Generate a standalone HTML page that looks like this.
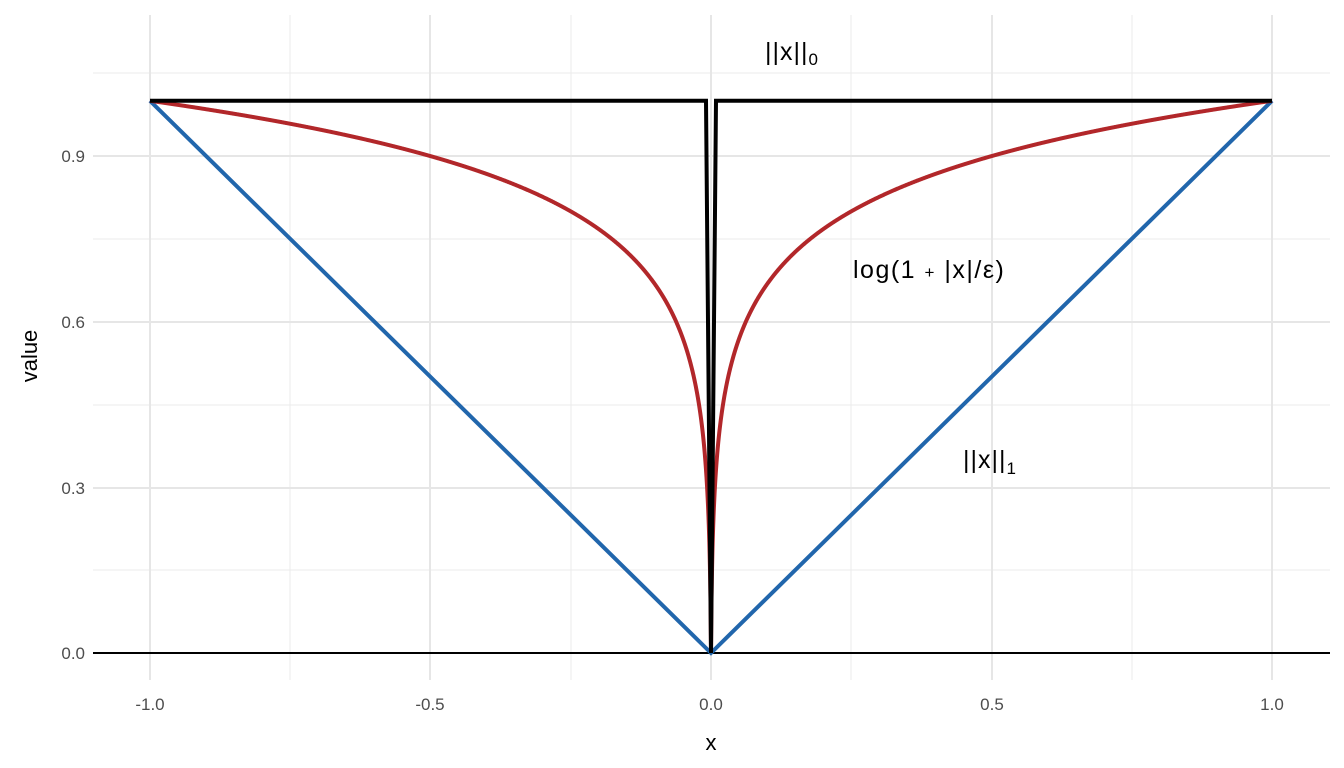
<!DOCTYPE html>
<html><head><meta charset="utf-8"><style>
html,body{margin:0;padding:0;background:#fff;}
svg{display:block;font-family:"Liberation Sans",sans-serif;}
</style></head><body>
<svg id="s" width="1344" height="768" viewBox="0 0 1344 768">
<g stroke="#ebebeb" stroke-width="1">
<line x1="290" y1="15" x2="290" y2="680"/><line x1="571" y1="15" x2="571" y2="680"/>
<line x1="851" y1="15" x2="851" y2="680"/><line x1="1132" y1="15" x2="1132" y2="680"/>
<line x1="93" y1="73" x2="1330" y2="73"/><line x1="93" y1="239" x2="1330" y2="239"/>
<line x1="93" y1="405" x2="1330" y2="405"/><line x1="93" y1="570" x2="1330" y2="570"/>
</g>
<g stroke="#e6e6e6" stroke-width="2">
<line x1="150" y1="15" x2="150" y2="680"/><line x1="430" y1="15" x2="430" y2="680"/>
<line x1="711" y1="15" x2="711" y2="680"/><line x1="992" y1="15" x2="992" y2="680"/>
<line x1="1272" y1="15" x2="1272" y2="680"/>
<line x1="93" y1="156" x2="1330" y2="156"/><line x1="93" y1="322" x2="1330" y2="322"/>
<line x1="93" y1="488" x2="1330" y2="488"/>
</g>
<line x1="93" y1="653" x2="1330" y2="653" stroke="#000" stroke-width="2"/>
<polyline points="150,100.8 711,653 1272,100.8" fill="none" stroke="#2166ac" stroke-width="4"/>
<path id="red" fill="none" stroke="#b2272a" stroke-width="4"/>
<polyline points="150,100.8 706,100.8 711,653 716,100.8 1272,100.8" fill="none" stroke="#000" stroke-width="4" stroke-linejoin="miter"/>
<g fill="#4d4d4d" font-size="17" text-anchor="end">
<text x="85" y="162">0.9</text><text x="85" y="328">0.6</text><text x="85" y="494">0.3</text><text x="85" y="659">0.0</text>
</g>
<g fill="#4d4d4d" font-size="17" text-anchor="middle">
<text x="150" y="710">-1.0</text><text x="430" y="710">-0.5</text><text x="711" y="710">0.0</text>
<text x="992" y="710">0.5</text><text x="1272" y="710">1.0</text>
</g>
<text x="711" y="750" font-size="22" text-anchor="middle">x</text>
<text transform="translate(37,356) rotate(-90)" font-size="22" text-anchor="middle">value</text>
<g font-size="25" fill="#000">
<text x="765" y="60" letter-spacing="1">||x||<tspan font-size="17" dy="5">0</tspan></text>
<text x="853" y="278" letter-spacing="1.5">log(1 <tspan font-size="17">+</tspan> |x|/ε)</text>
<text x="963" y="468" letter-spacing="1">||x||<tspan font-size="17" dy="6">1</tspan></text>
</g>
</svg>
<script>
var e=0.001,L=Math.log(1+1/e),d=[];
for(var i=-2000;i<=2000;i++){var x=i/2000;var y=Math.log(1+Math.abs(x)/e)/L;
d.push((i==-2000?"M":"L")+(711+561*x).toFixed(2)+","+(653-552.2*y).toFixed(2));}
document.getElementById("red").setAttribute("d",d.join(""));
</script>
</body></html>
